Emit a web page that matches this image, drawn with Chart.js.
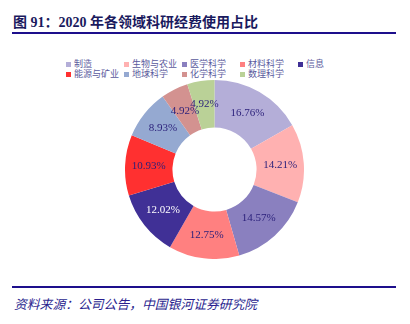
<!DOCTYPE html>
<html lang="zh">
<head>
<meta charset="UTF-8">
<title>2020 年各领域科研经费使用占比</title>
<script src="https://cdn.jsdelivr.net/npm/chart.js"></script>
<style>
    body {
        margin: 0;
        width: 410px;
        height: 324px;
        background: #fff;
        position: relative;
        overflow: hidden;
        font-family: "Liberation Serif", "Noto Sans CJK SC", serif;
    }
    .title {
        position: absolute;
        left: 13px;
        top: 11px;
        font-size: 14px;
        font-weight: bold;
        color: #1a1a5e;
        white-space: nowrap;
    }
    .rule {
        position: absolute;
        left: 12px;
        width: 384px;
        height: 2px;
        background: #1d0f8c;
    }
    .legend {
        position: absolute;
        left: 66px;
        top: 59px;
        display: grid;
        grid-template-columns: repeat(5, 58px);
        grid-auto-rows: 10px;
        font-family: "Noto Sans CJK SC", sans-serif;
        font-size: 9px;
        color: #5a5a9c;
    }
    .legend span {
        display: flex;
        align-items: center;
        white-space: nowrap;
        line-height: 10px;
    }
    .legend i {
        display: inline-block;
        width: 5px;
        height: 5px;
        margin-right: 3px;
    }
    .chart-box {
        position: absolute;
        left: 125px;
        top: 80px;
        width: 179px;
        height: 179px;
    }
    .source {
        position: absolute;
        left: 14px;
        top: 294px;
        font-size: 12.8px;
        font-style: italic;
        color: #2b1f8f;
        white-space: nowrap;
    }
</style>
</head>
<body>

<div class="title">图 91：2020 年各领域科研经费使用占比</div>
<div class="rule" style="top:32px"></div>
<div class="legend" id="legend"></div>
<div class="chart-box"><canvas id="fundingChart"></canvas></div>
<div class="rule" style="top:286px"></div>
<div class="source">资料来源：公司公告，中国银河证券研究院</div>

<script>
const categories = ['制造', '生物与农业', '医学科学', '材料科学', '信息', '能源与矿业', '地球科学', '化学科学', '数理科学'];
const shares = [16.76, 14.21, 14.57, 12.75, 12.02, 10.93, 8.93, 4.92, 4.92];

const sliceColors = ['#b4aed8', '#ffb1b1', '#8a80bf', '#ff8080', '#403096', '#ff3030', '#95a9d1', '#d39290', '#bad197'];
const labelColors = ['#2a1f7a', '#2a1f7a', '#2a1f7a', '#2a1f7a', '#ffffff', '#2a1f7a', '#2a1f7a', '#2a1f7a', '#2a1f7a'];

// legend in a fixed grid, like the original
const legend = document.getElementById('legend');
categories.forEach((name, i) => {
    const item = document.createElement('span');
    item.innerHTML = '<i style="background:' + sliceColors[i] + '"></i>' + name;
    legend.appendChild(item);
});

// percent labels in the middle of each ring segment
const sliceLabels = {
    id: 'sliceLabels',
    afterDatasetsDraw(chart) {
        const ctx = chart.ctx;
        const meta = chart.getDatasetMeta(0);
        ctx.save();
        ctx.font = '11px "Liberation Serif", serif';
        ctx.textAlign = 'center';
        ctx.textBaseline = 'middle';
        meta.data.forEach((arc, i) => {
            const p = arc.tooltipPosition();
            ctx.fillStyle = labelColors[i];
            ctx.fillText(shares[i].toFixed(2) + '%', p.x, p.y);
        });
        ctx.restore();
    }
};

new Chart(document.getElementById('fundingChart'), {
    type: 'doughnut',
    data: {
        labels: categories,
        datasets: [{
            data: shares,
            backgroundColor: sliceColors,
            borderWidth: 0
        }]
    },
    options: {
        responsive: true,
        maintainAspectRatio: false,
        animation: false,
        cutout: '47%',
        layout: { padding: 0 },
        plugins: {
            legend: { display: false },
            tooltip: { enabled: false }
        }
    },
    plugins: [sliceLabels]
});
</script>

</body>
</html>
